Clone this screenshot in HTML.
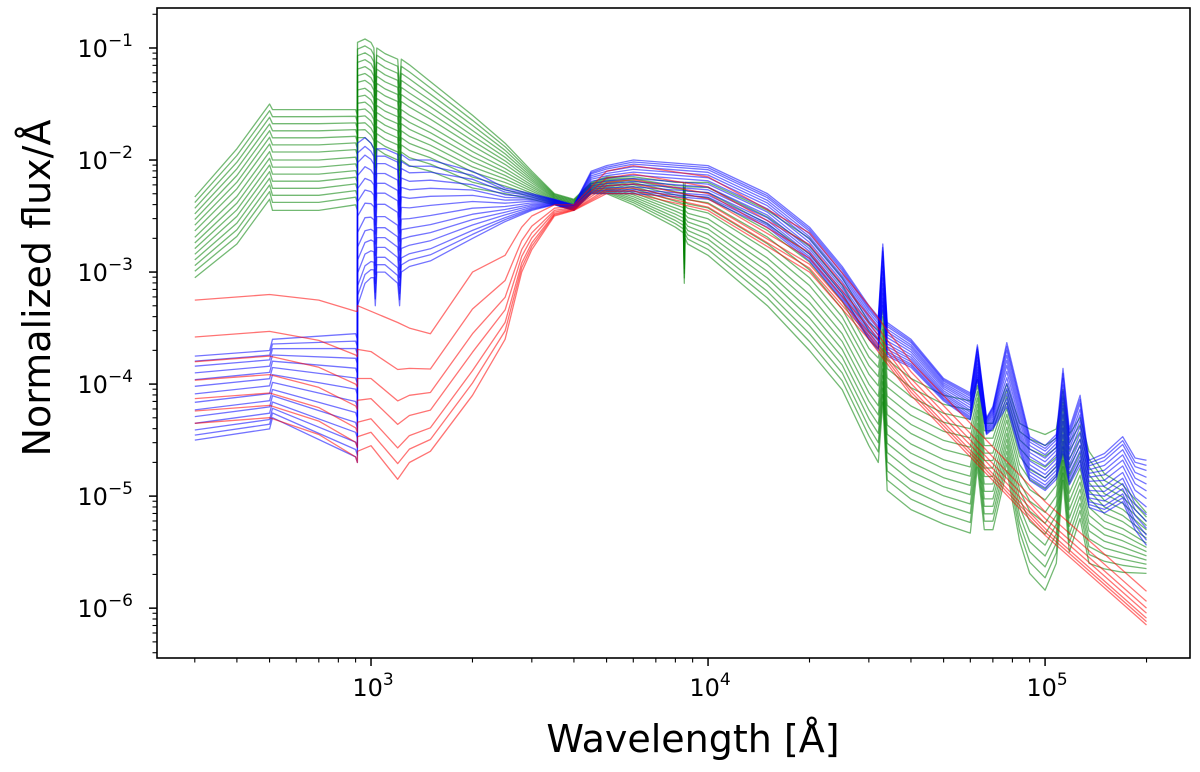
<!DOCTYPE html>
<html><head><meta charset="utf-8"><style>
html,body{margin:0;padding:0;background:#fff;}
svg{display:block;font-family:"DejaVu Sans","Liberation Sans",sans-serif;}
</style></head><body>
<svg id="chart" width="1200" height="772" viewBox="0 0 1200 772" xmlns="http://www.w3.org/2000/svg">
<g id="lines"></g>
<g id="axes"></g>
<text x="693" y="752" font-size="38" text-anchor="middle">Wavelength [Å]</text>
<text transform="translate(50,288) rotate(-90)" font-size="38" text-anchor="middle">Normalized flux/Å</text>
</svg>
<script>
// ----- data (log10 flux envelopes per group; lines interpolate between top & bottom) -----
const greenWl = [300,400,500,510,700,900,911,912,960,1000,1020,1030,1040,1100,1200,1216,1230,1300,1500,2000,2500,3000,3500,4000,4500,5000,6000,8000,8450,8500,8550,8700,
  10000,15000,20000,25000,30000,32000,33000,34000,40000,50000,60000,63000,66000,70000,77000,84000,90000,100000,108000,113000,118000,127000,135000,150000,170000,200000];
const greenTop = [-2.33,-1.9,-1.5,-1.55,-1.55,-1.55,-1.6,-0.95,-0.92,-0.95,-1.0,-1.3,-1.0,-1.05,-1.1,-1.35,-1.1,-1.15,-1.3,-1.6,-1.85,-2.1,-2.3,-2.35,-2.2,-2.15,-2.15,-2.2,-2.2,-2.5,-2.2,-2.2,
  -2.2,-2.45,-2.7,-3.05,-3.45,-3.52,-3.34,-3.78,-3.95,-4.1,-4.15,-3.96,-4.35,-4.35,-4.0,-4.35,-4.4,-4.45,-4.4,-4.05,-4.45,-4.3,-4.6,-4.8,-4.9,-5.15];
const greenBottom = [-3.05,-2.75,-2.35,-2.45,-2.45,-2.4,-2.45,-1.8,-1.8,-1.85,-1.9,-2.2,-1.9,-1.95,-2.0,-2.3,-2.0,-2.05,-2.1,-2.25,-2.3,-2.35,-2.4,-2.45,-2.3,-2.3,-2.4,-2.6,-2.65,-3.1,-2.7,-2.75,
  -2.85,-3.3,-3.7,-4.05,-4.55,-4.7,-4.16,-4.95,-5.12,-5.25,-5.33,-4.74,-5.3,-5.3,-4.77,-5.4,-5.69,-5.84,-5.6,-4.86,-5.5,-5.2,-5.6,-5.65,-5.68,-5.69];
const greenFractions = [0,0.07,0.14,0.21,0.28,0.35,0.42,0.5,0.57,0.64,0.71,0.78,0.85,0.92,1];

const blueWl = [300,500,510,900,911,912,960,1000,1020,1030,1040,1100,1200,1216,1230,1300,1500,2000,2500,3000,3500,4000,4500,5000,6000,10000,15000,20000,25000,30000,32000,33000,34000,40000,50000,60000,63000,67000,70000,77000,84000,90000,100000,108000,113000,118000,127000,135000,150000,170000,185000,200000];
const blueTop = [-3.75,-3.7,-3.6,-3.55,-3.6,-1.85,-1.8,-1.85,-1.9,-2.3,-1.9,-1.9,-1.95,-2.4,-1.95,-2.0,-2.0,-2.1,-2.25,-2.3,-2.35,-2.4,-2.1,-2.05,-2.0,-2.05,-2.3,-2.6,-2.95,-3.3,-3.4,-2.75,-3.45,-3.6,-3.95,-4.08,-3.65,-4.3,-4.2,-3.63,-4.1,-4.47,-4.55,-4.45,-3.86,-4.4,-4.1,-4.68,-4.62,-4.47,-4.66,-4.68];
const blueBottom = [-4.5,-4.4,-4.3,-4.65,-4.7,-3.3,-3.1,-3.05,-3.05,-3.3,-3.0,-3.0,-3.1,-3.3,-3.0,-2.95,-2.9,-2.7,-2.55,-2.45,-2.4,-2.45,-2.3,-2.3,-2.3,-2.35,-2.6,-2.9,-3.25,-3.6,-3.7,-3.3,-3.75,-3.85,-4.15,-4.32,-3.96,-4.45,-4.4,-4.2,-4.6,-4.86,-4.95,-4.85,-4.6,-4.9,-4.72,-5.1,-5.15,-5.05,-5.3,-5.44];
const blueFractions = [0,0.06,0.12,0.2,0.28,0.36,0.45,0.55,0.64,0.72,0.8,0.88,0.94,1];

const redWl = [300,500,700,900,911,912,1000,1200,1300,1500,2000,2500,2800,3000,3500,4000,5000,6000,10000,20000,30000,40000,60000,100000,200000];
const redTop = [-3.25,-3.2,-3.25,-3.35,-3.35,-3.3,-3.35,-3.45,-3.5,-3.55,-3.0,-2.85,-2.6,-2.5,-2.4,-2.4,-2.1,-2.05,-2.15,-2.65,-3.3,-3.8,-4.35,-5.05,-5.85];
const redBottom = [-4.35,-4.3,-4.45,-4.65,-4.7,-4.6,-4.55,-4.85,-4.7,-4.6,-4.1,-3.6,-3.0,-2.8,-2.5,-2.45,-2.3,-2.3,-2.45,-3.0,-3.6,-4.1,-4.65,-5.35,-6.15];
const redFractions = [0,0.3,0.5,0.65,0.8,0.9,1];

const xTickExps = [3,4,5];
const yTickExps = [-1,-2,-3,-4,-5,-6];

// ----- axes -----
const PL=157, PR=1190, PT=8, PB=658;
const X0=2.365, X1=5.43, Y0=-6.445, Y1=-0.643;
function xs(w){return PL+(Math.log10(w)-X0)/(X1-X0)*(PR-PL);}
function ys(lf){return PB-(lf-Y0)/(Y1-Y0)*(PB-PT);}
const NS="http://www.w3.org/2000/svg";
function mk(tag,attrs,parent){const e=document.createElementNS(NS,tag);for(const k in attrs)e.setAttribute(k,attrs[k]);parent.appendChild(e);return e;}

const lines=document.getElementById('lines');
function drawGroup(wl,top,bot,fr,color,name){
  const n=Math.min(wl.length,top.length,bot.length);
  fr.forEach((f,i)=>{
    let pts=[];
    for(let j=0;j<n;j++){pts.push(xs(wl[j]).toFixed(1)+','+ys(top[j]+f*(bot[j]-top[j])).toFixed(1));}
    const p=mk('polyline',{points:pts.join(' '),fill:'none',stroke:color,'stroke-width':1.3,'stroke-opacity':0.55,'stroke-linejoin':'round'},lines);
    
    
  });
}
drawGroup(greenWl,greenTop,greenBottom,greenFractions,'#008000','green');
drawGroup(blueWl,blueTop,blueBottom,blueFractions,'#0000ff','blue');
drawGroup(redWl,redTop,redBottom,redFractions,'#ff0000','red');

const ax=document.getElementById('axes');
const frame=mk('rect',{x:PL,y:PT,width:PR-PL,height:PB-PT,fill:'none',stroke:'#000','stroke-width':1.6},ax);


for(let d=2;d<=5;d++){for(let m=1;m<10;m++){const w=m*Math.pow(10,d);const lw=Math.log10(w);if(lw<X0||lw>X1)continue;const x=xs(w);
  const t=mk('line',{x1:x,x2:x,y1:PB,y2:PB+(m===1?8:4.5),stroke:'#000','stroke-width':m===1?1.5:1.1},ax);
  
  }}
xTickExps.forEach(e=>{const x=xs(Math.pow(10,e));
  const t=mk('text',{x:x+2,y:PB+38,'font-size':24,'text-anchor':'middle'},ax);
  
  
  t.textContent='10';
  const s=mk('tspan',{dy:-11,'font-size':17},t);s.textContent=String(e);});
for(let d=-7;d<=-1;d++){for(let m=1;m<10;m++){const lf=Math.log10(m)+d;if(lf<Y0||lf>Y1)continue;const y=ys(lf);
  const t=mk('line',{x1:PL-(m===1?8:4.5),x2:PL,y1:y,y2:y,stroke:'#000','stroke-width':m===1?1.5:1.1},ax);
  
  }}
yTickExps.forEach(e=>{const y=ys(e);
  const t=mk('text',{x:PL-24,y:y+9,'font-size':24,'text-anchor':'end'},ax);
  
  
  t.textContent='10';
  const s=mk('tspan',{dy:-11,'font-size':17},t);s.textContent='\u2212'+Math.abs(e);});
</script>
</body></html>
